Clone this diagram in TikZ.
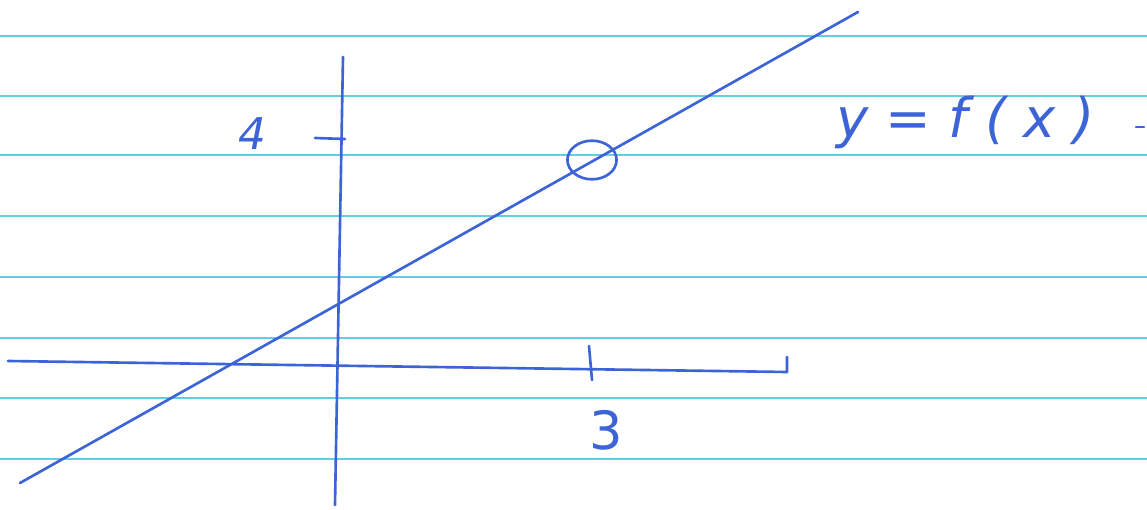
\documentclass[tikz,border=0pt]{standalone}
\usepackage{fontspec}
\setmainfont{DejaVu Sans}
\usetikzlibrary{shapes.geometric}
\definecolor{pen}{RGB}{60,100,215}
\definecolor{rule}{RGB}{100,205,225}
\begin{document}
\begin{tikzpicture}[x=0.02cm,y=-0.02cm,
  ruling/.style={rule,line width=0.9pt},
  ink/.style={pen,line width=1.5pt,line cap=round,line join=round},
  hand/.style={pen,font=\Huge\itshape}]
\useasboundingbox[fill=white] (0,0) rectangle (1147,510);
% ruled paper
\foreach \yy in {36,96,155,216,277,338,398,459}
  \draw[ruling] (0,\yy) -- (1147,\yy);
% axes
\coordinate (xl) at (8,361);
\coordinate (xr) at (787,372);
\coordinate (xe) at (787,357);
\coordinate (yt) at (343,57);
\coordinate (yb) at (335,505);
\draw[ink] (xl) -- (xr) -- (xe);
\draw[ink] (yt) -- (yb);
% ticks
\coordinate (t3a) at (589,346);
\coordinate (t3b) at (592,380);
\draw[ink] (t3a) -- (t3b);
\coordinate (t4a) at (315,138);
\coordinate (t4b) at (345,139);
\draw[ink] (t4a) -- (t4b);
% labels
\node[hand,font=\fontsize{30}{34}\selectfont] (l3) at (606,430) {3};
\node[hand] (l4) at (252,134) {4};
% line y=f(x)
\coordinate (la) at (20,483);
\coordinate (lb) at (858,12);
\draw[ink] (la) -- (lb);
\node[draw=pen,line width=1.5pt,ellipse,minimum width=28pt,minimum height=22pt,inner sep=0pt] (hole) at (592,160) {};
\node[hand,anchor=west,font=\fontsize{31}{36}\selectfont\itshape] (fx) at (830,122) {y = f ( x )};
\coordinate (d1) at (1136,127);
\coordinate (d2) at (1144,127);
\draw[ink] (d1) -- (d2);
\end{tikzpicture}
\end{document}
